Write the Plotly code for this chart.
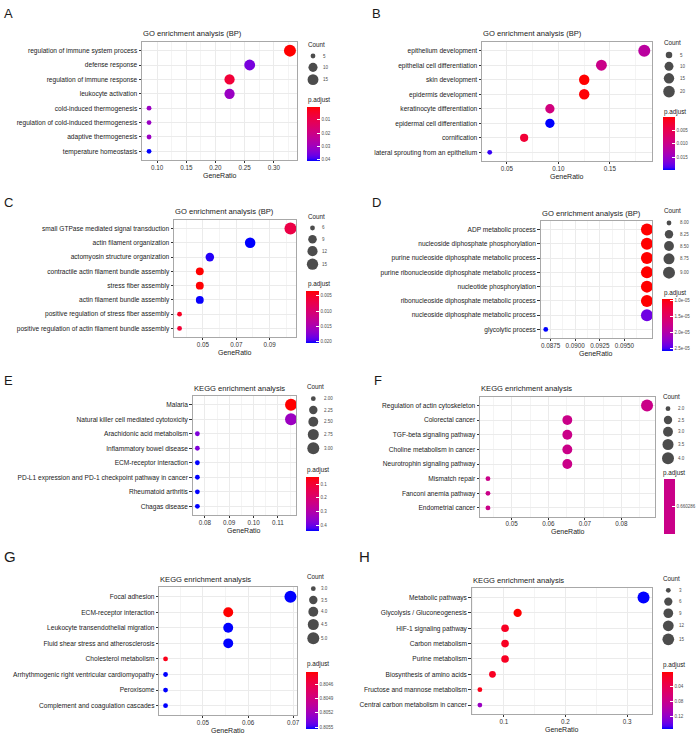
import math
import plotly.graph_objects as go

W, H = 700, 740
FONT = "Liberation Sans, Arial, sans-serif"

# ------------------------------------------------------------------ data
A_terms = ["regulation of immune system process", "defense response", "regulation of immune response",
           "leukocyte activation", "cold-induced thermogenesis", "regulation of cold-induced thermogenesis",
           "adaptive thermogenesis", "temperature homeostasis"]
A_ratio = [0.3276, 0.2586, 0.2241, 0.2241, 0.0862, 0.0862, 0.0862, 0.0862]
A_count = [19, 15, 13, 13, 5, 5, 5, 5]
A_padj = [0.0002, 0.0355, 0.0065, 0.031, 0.031, 0.031, 0.031, 0.0412]
A_xticks = [0.10, 0.15, 0.20, 0.25, 0.30]
A_xlabels = ["0.10", "0.15", "0.20", "0.25", "0.30"]
A_size_breaks = [5, 10, 15]
A_size_labels = ["5", "10", "15"]
A_col_breaks = [0.01, 0.02, 0.03, 0.04]
A_col_labels = ["0.01", "0.02", "0.03", "0.04"]

B_terms = ["epithelium development", "epithelial cell differentiation", "skin development",
           "epidermis development", "keratinocyte differentiation", "epidermal cell differentiation",
           "cornification", "lateral sprouting from an epithelium"]
B_ratio = [0.1833, 0.1417, 0.1250, 0.1250, 0.0917, 0.0917, 0.0667, 0.0333]
B_count = [22, 17, 15, 15, 11, 11, 8, 4]
B_padj = [0.0118, 0.0099, 0.0001, 0.0003, 0.0089, 0.0197, 0.0030, 0.0190]
B_xticks = [0.05, 0.10, 0.15]
B_xlabels = ["0.05", "0.10", "0.15"]
B_size_breaks = [5, 10, 15, 20]
B_size_labels = ["5", "10", "15", "20"]
B_col_breaks = [0.005, 0.010, 0.015]
B_col_labels = ["0.005", "0.010", "0.015"]

C_terms = ["small GTPase mediated signal transduction", "actin filament organization",
           "actomyosin structure organization", "contractile actin filament bundle assembly",
           "stress fiber assembly", "actin filament bundle assembly",
           "positive regulation of stress fiber assembly",
           "positive regulation of actin filament bundle assembly"]
C_ratio = [0.1024, 0.0783, 0.0542, 0.0482, 0.0482, 0.0482, 0.0361, 0.0361]
C_count = [17, 13, 9, 8, 8, 8, 6, 6]
C_padj = [0.0070, 0.0204, 0.0200, 0.0035, 0.0036, 0.0203, 0.0048, 0.0060]
C_xticks = [0.05, 0.07, 0.09]
C_xlabels = ["0.05", "0.07", "0.09"]
C_size_breaks = [6, 9, 12, 15]
C_size_labels = ["6", "9", "12", "15"]
C_col_breaks = [0.005, 0.010, 0.015, 0.020]
C_col_labels = ["0.005", "0.010", "0.015", "0.020"]

D_terms = ["ADP metabolic process", "nucleoside diphosphate phosphorylation",
           "purine nucleoside diphosphate metabolic process",
           "purine ribonucleoside diphosphate metabolic process", "nucleotide phosphorylation",
           "ribonucleoside diphosphate metabolic process", "nucleoside diphosphate metabolic process",
           "glycolytic process"]
D_ratio = [0.0973, 0.0973, 0.0973, 0.0973, 0.0973, 0.0973, 0.0973, 0.0870]
D_count = [9, 9, 9, 9, 9, 9, 9, 8]
D_padj = [9.6e-06, 9.6e-06, 9.6e-06, 9.6e-06, 9.6e-06, 9.6e-06, 2.39e-05, 2.58e-05]
D_xticks = [0.0875, 0.0900, 0.0925, 0.0950]
D_xlabels = ["0.0875", "0.0900", "0.0925", "0.0950"]
D_size_breaks = [8.00, 8.25, 8.50, 8.75, 9.00]
D_size_labels = ["8.00", "8.25", "8.50", "8.75", "9.00"]
D_col_breaks = [1.0e-05, 1.5e-05, 2.0e-05, 2.5e-05]
D_col_labels = ["1.0e-05", "1.5e-05", "2.0e-05", "2.5e-05"]

E_terms = ["Malaria", "Natural killer cell mediated cytotoxicity", "Arachidonic acid metabolism",
           "Inflammatory bowel disease", "ECM-receptor interaction",
           "PD-L1 expression and PD-1 checkpoint pathway in cancer", "Rheumatoid arthritis",
           "Chagas disease"]
E_ratio = [0.1154, 0.1154, 0.0769, 0.0769, 0.0769, 0.0769, 0.0769, 0.0769]
E_count = [3, 3, 2, 2, 2, 2, 2, 2]
E_padj = [0.044, 0.34, 0.38, 0.38, 0.442, 0.442, 0.442, 0.442]
E_xticks = [0.08, 0.09, 0.10, 0.11]
E_xlabels = ["0.08", "0.09", "0.10", "0.11"]
E_size_breaks = [2.00, 2.25, 2.50, 2.75, 3.00]
E_size_labels = ["2.00", "2.25", "2.50", "2.75", "3.00"]
E_col_breaks = [0.1, 0.2, 0.3, 0.4]
E_col_labels = ["0.1", "0.2", "0.3", "0.4"]

F_terms = ["Regulation of actin cytoskeleton", "Colorectal cancer", "TGF-beta signaling pathway",
           "Choline metabolism in cancer", "Neurotrophin signaling pathway", "Mismatch repair",
           "Fanconi anemia pathway", "Endometrial cancer"]
F_ratio = [0.0870, 0.0652, 0.0652, 0.0652, 0.0652, 0.0435, 0.0435, 0.0435]
F_count = [4, 3, 3, 3, 3, 2, 2, 2]
F_padj = [0.660286, 0.660286, 0.660286, 0.660286, 0.660286, 0.660286, 0.660286, 0.660286]
F_xticks = [0.05, 0.06, 0.07, 0.08]
F_xlabels = ["0.05", "0.06", "0.07", "0.08"]
F_size_breaks = [2.0, 2.5, 3.0, 3.5, 4.0]
F_size_labels = ["2.0", "2.5", "3.0", "3.5", "4.0"]
F_col_breaks = [0.660286]
F_col_labels = ["0.660286"]

G_terms = ["Focal adhesion", "ECM-receptor interaction", "Leukocyte transendothelial migration",
           "Fluid shear stress and atherosclerosis", "Cholesterol metabolism",
           "Arrhythmogenic right ventricular cardiomyopathy", "Peroxisome",
           "Complement and coagulation cascades"]
G_ratio = [0.0694, 0.0556, 0.0556, 0.0556, 0.0417, 0.0417, 0.0417, 0.0417]
G_count = [5, 4, 4, 4, 3, 3, 3, 3]
G_padj = [0.80553, 0.80434, 0.80553, 0.80553, 0.80440, 0.80553, 0.80553, 0.80553]
G_xticks = [0.05, 0.06, 0.07]
G_xlabels = ["0.05", "0.06", "0.07"]
G_size_breaks = [3.0, 3.5, 4.0, 4.5, 5.0]
G_size_labels = ["3.0", "3.5", "4.0", "4.5", "5.0"]
G_col_breaks = [0.8046, 0.8049, 0.8052, 0.8055]
G_col_labels = ["0.8046", "0.8049", "0.8052", "0.8055"]

H_terms = ["Metabolic pathways", "Glycolysis / Gluconeogenesis", "HIF-1 signaling pathway",
           "Carbon metabolism", "Purine metabolism", "Biosynthesis of amino acids",
           "Fructose and mannose metabolism", "Central carbon metabolism in cancer"]
H_ratio = [0.3265, 0.1224, 0.1020, 0.1020, 0.1020, 0.0816, 0.0612, 0.0612]
H_count = [16, 6, 5, 5, 5, 4, 3, 3]
H_padj = [0.1563, 0.0007, 0.013, 0.013, 0.013, 0.013, 0.008, 0.117]
H_xticks = [0.1, 0.2, 0.3]
H_xlabels = ["0.1", "0.2", "0.3"]
H_size_breaks = [3, 6, 9, 12, 15]
H_size_labels = ["3", "6", "9", "12", "15"]
H_col_breaks = [0.04, 0.08, 0.12]
H_col_labels = ["0.04", "0.08", "0.12"]

# ------------------------------------------------------------------ colour helpers (Lab interpolation like ggplot)
def _lin(c):
    c = c / 255.0
    return c / 12.92 if c <= 0.04045 else ((c + 0.055) / 1.055) ** 2.4


def rgb2lab(rgb):
    r, g, b = [_lin(v) for v in rgb]
    X = 0.4124564 * r + 0.3575761 * g + 0.1804375 * b
    Y = 0.2126729 * r + 0.7151522 * g + 0.0721750 * b
    Z = 0.0193339 * r + 0.1191920 * g + 0.9503041 * b
    f = lambda t: t ** (1 / 3) if t > 0.008856 else 7.787 * t + 16 / 116
    fx, fy, fz = f(X / 0.95047), f(Y), f(Z / 1.08883)
    return (116 * fy - 16, 500 * (fx - fy), 200 * (fy - fz))


def lab2rgb(L, a, b):
    fy = (L + 16) / 116
    fx = fy + a / 500
    fz = fy - b / 200
    finv = lambda t: t ** 3 if t ** 3 > 0.008856 else (t - 16 / 116) / 7.787
    X, Y, Z = 0.95047 * finv(fx), finv(fy), 1.08883 * finv(fz)
    r = 3.2404542 * X - 1.5371385 * Y - 0.4985314 * Z
    g = -0.9692660 * X + 1.8760108 * Y + 0.0415560 * Z
    bb = 0.0556434 * X - 0.2040259 * Y + 1.0572252 * Z

    def enc(c):
        c = min(max(c, 0.0), 1.0)
        return 255 * (12.92 * c if c <= 0.0031308 else 1.055 * c ** (1 / 2.4) - 0.055)

    return "rgb(%d,%d,%d)" % tuple(int(round(enc(c))) for c in (r, g, bb))


LAB_BLUE = rgb2lab((0, 0, 255))
LAB_RED = rgb2lab((255, 0, 0))


def lab_mix(s):
    return lab2rgb(*[LAB_BLUE[i] + (LAB_RED[i] - LAB_BLUE[i]) * s for i in range(3)])


BLUE_TO_RED = [[i / 20, lab_mix(i / 20)] for i in range(21)]
MID = lab_mix(0.5)

DMIN, DMAX = 4.8, 12.0


def diam(c, cmin, cmax):
    if cmax == cmin:
        return (DMIN + DMAX) / 2
    return DMIN + (DMAX - DMIN) * math.sqrt(max(c - cmin, 0) / (cmax - cmin))


# ------------------------------------------------------------------ panel layout (pixel geometry)
panels = [
    dict(letter="A", title="GO enrichment analysis (BP)", terms=A_terms, ratio=A_ratio, count=A_count, padj=A_padj,
         xt=A_xticks, xl=A_xlabels, sb=A_size_breaks, sl=A_size_labels, cb=A_col_breaks, cl=A_col_labels,
         box=(142, 42, 297, 160), let=(3, 13, 13), ct=(307, 44), dx=313, lx=322, pt=(307, 100), bar=(307, 107, 320, 161)),
    dict(letter="B", title="GO enrichment analysis (BP)", terms=B_terms, ratio=B_ratio, count=B_count, padj=B_padj,
         xt=B_xticks, xl=B_xlabels, sb=B_size_breaks, sl=B_size_labels, cb=B_col_breaks, cl=B_col_labels,
         box=(482, 42, 652, 161), let=(370.5, 13, 13), ct=(663, 43), dx=669, lx=679, pt=(663, 112), bar=(663, 117, 675, 169.5)),
    dict(letter="C", title="GO enrichment analysis (BP)", terms=C_terms, ratio=C_ratio, count=C_count, padj=C_padj,
         xt=C_xticks, xl=C_xlabels, sb=C_size_breaks, sl=C_size_labels, cb=C_col_breaks, cl=C_col_labels,
         box=(174, 220, 296, 337), let=(3, 202.5, 13), ct=(307, 216), dx=312.5, lx=321, pt=(307, 284), bar=(306, 291, 319, 343)),
    dict(letter="D", title="GO enrichment analysis (BP)", terms=D_terms, ratio=D_ratio, count=D_count, padj=D_padj,
         xt=D_xticks, xl=D_xlabels, sb=D_size_breaks, sl=D_size_labels, cb=D_col_breaks, cl=D_col_labels,
         box=(540.7, 221, 652, 338), let=(370.5, 202, 13), ct=(663, 211), dx=669, lx=679, pt=(663, 293), bar=(662, 299.3, 673, 351.7)),
    dict(letter="E", title="KEGG enrichment analysis", terms=E_terms, ratio=E_ratio, count=E_count, padj=E_padj,
         xt=E_xticks, xl=E_xlabels, sb=E_size_breaks, sl=E_size_labels, cb=E_col_breaks, cl=E_col_labels,
         box=(192.7, 396, 295.7, 515), let=(3, 381, 13), ct=(306, 386.7), dx=313.3, lx=322.7, pt=(306, 470), bar=(306, 476.7, 319.3, 530.7)),
    dict(letter="F", title="KEGG enrichment analysis", terms=F_terms, ratio=F_ratio, count=F_count, padj=F_padj,
         xt=F_xticks, xl=F_xlabels, sb=F_size_breaks, sl=F_size_labels, cb=F_col_breaks, cl=F_col_labels,
         box=(480, 396.7, 655, 516.7), let=(373, 381, 13), ct=(661.7, 396.7), dx=668, lx=677, pt=(661.7, 473.3), bar=(664, 479.3, 675, 534.3)),
    dict(letter="G", title="KEGG enrichment analysis", terms=G_terms, ratio=G_ratio, count=G_count, padj=G_padj,
         xt=G_xticks, xl=G_xlabels, sb=G_size_breaks, sl=G_size_labels, cb=G_col_breaks, cl=G_col_labels,
         box=(159.3, 587.3, 296.7, 715), let=(3, 556, 15), ct=(305.7, 576.7), dx=313.3, lx=320, pt=(305.7, 664.3), bar=(306, 671.7, 318, 728.3)),
    dict(letter="H", title="KEGG enrichment analysis", terms=H_terms, ratio=H_ratio, count=H_count, padj=H_padj,
         xt=H_xticks, xl=H_xlabels, sb=H_size_breaks, sl=H_size_labels, cb=H_col_breaks, cl=H_col_labels,
         box=(471.7, 588.3, 651.7, 714.3), let=(358, 556, 15), ct=(661.7, 578.3), dx=668.3, lx=678, pt=(662.3, 665), bar=(662.3, 672.3, 673.3, 729.3)),
]

TXT = "#1a1a1a"
TICK_TXT = "#333333"

fig = go.Figure()
layout = dict(width=W, height=H, margin=dict(l=0, r=0, t=0, b=0, autoexpand=False),
              paper_bgcolor="white", plot_bgcolor="rgba(0,0,0,0)", showlegend=False,
              font=dict(family=FONT, color=TXT))
annotations = []


def ann(x, y, text, size, xanchor="left", color=TXT):
    annotations.append(dict(xref="paper", yref="paper", x=x / W, y=1 - y / H, text=text, showarrow=False,
                            xanchor=xanchor, yanchor="middle", borderpad=0,
                            font=dict(size=size, color=color, family=FONT)))


leg_x, leg_y, leg_s = [], [], []

for i, p in enumerate(panels):
    n = i + 1
    xa = "xaxis" if n == 1 else "xaxis%d" % n
    ya = "yaxis" if n == 1 else "yaxis%d" % n
    xr = "x" if n == 1 else "x%d" % n
    yr = "y" if n == 1 else "y%d" % n
    ca = "coloraxis" if n == 1 else "coloraxis%d" % n
    x0, y0, x1, y1 = p["box"]

    cmin_c, cmax_c = min(p["count"]), max(p["count"])
    sizes = [diam(c, cmin_c, cmax_c) for c in p["count"]]

    fig.add_trace(go.Scatter(
        x=p["ratio"], y=p["terms"], xaxis=xr, yaxis=yr, mode="markers", cliponaxis=False,
        marker=dict(size=sizes, color=[-v for v in p["padj"]], coloraxis=ca, line=dict(width=0), opacity=1),
        hovertemplate="%{y}<br>GeneRatio=%{x}<extra></extra>"))

    rmin, rmax = min(p["ratio"]), max(p["ratio"])
    ex = 0.05 * (rmax - rmin)
    xrng = [rmin - ex, rmax + ex]
    step = p["xt"][1] - p["xt"][0]
    minor = [p["xt"][0] - step / 2] + [v + step / 2 for v in p["xt"]]
    minor = [m for m in minor if xrng[0] <= m <= xrng[1]]

    layout[xa] = dict(domain=[x0 / W, x1 / W], range=xrng, anchor=yr, tickmode="array", tickvals=p["xt"],
                      ticktext=p["xl"], ticks="outside", ticklen=2.2, tickwidth=0.7, tickcolor="#333333",
                      ticklabelstandoff=-1,
                      showgrid=True, gridcolor="#EBEBEB", gridwidth=0.8,
                      minor=dict(tickvals=minor, showgrid=True, gridcolor="#F4F4F4", gridwidth=0.5, ticks=""),
                      showline=True, mirror=True, linecolor="#A8A8A8", linewidth=0.9, zeroline=False,
                      tickfont=dict(size=6.3, color=TICK_TXT, family=FONT), fixedrange=True)
    nt = len(p["terms"])
    layout[ya] = dict(domain=[1 - y1 / H, 1 - y0 / H], anchor=xr, type="category", categoryorder="array",
                      categoryarray=p["terms"], range=[nt - 1 + 0.6, -0.6], ticks="outside", ticklen=2.5,
                      tickwidth=0.7, tickcolor="#333333", showgrid=True, gridcolor="#EBEBEB", gridwidth=0.8,
                      showline=True, mirror=True, linecolor="#A8A8A8", linewidth=0.9, zeroline=False,
                      tickfont=dict(size=6.6, color=TXT, family=FONT), fixedrange=True)

    # colour axis with reversed bar (low p.adjust = red at top)
    bx0, by0, bx1, by1 = p["bar"]
    pmin, pmax = min(p["padj"]), max(p["padj"])
    if pmax > pmin:
        cs = BLUE_TO_RED
        cmin, cmax = -pmax, -pmin
    else:
        cs = [[0, MID], [1, MID]]
        cmin, cmax = -pmin - 1e-7, -pmin + 1e-7
    layout[ca] = dict(colorscale=cs, cmin=cmin, cmax=cmax,
                      colorbar=dict(x=bx0 / W, xanchor="left", y=1 - by0 / H, yanchor="top",
                                    len=by1 - by0, lenmode="pixels", thickness=bx1 - bx0, thicknessmode="pixels",
                                    xpad=0, ypad=0, outlinewidth=0, borderwidth=0,
                                    tickmode="array", tickvals=[-v for v in p["cb"]], ticktext=p["cl"],
                                    ticks="inside", ticklen=2.5, tickwidth=0.7, tickcolor="white",
                                    tickfont=dict(size=4.5, color="#4d4d4d", family=FONT),
                                    title=dict(text="")))

    # text elements
    lx_, ly_, lsz = p["let"]
    ann(lx_, ly_, p["letter"], lsz)
    ann(x0, y0 - 8, p["title"], 7.6)
    ann((x0 + x1) / 2, y1 + 15, "GeneRatio", 7.0, xanchor="center")
    ann(p["ct"][0], p["ct"][1], "Count", 6.3)
    ann(p["pt"][0], p["pt"][1], "p.adjust", 6.3)

    # size legend
    ds = [diam(b, cmin_c, cmax_c) for b in p["sb"]]
    hs = [max(11.3, d + 2.3) for d in ds]
    yy = [p["ct"][1] + 12]
    for j in range(1, len(ds)):
        yy.append(yy[-1] + (hs[j - 1] + hs[j]) / 2)
    for j, lab in enumerate(p["sl"]):
        leg_x.append(p["dx"])
        leg_y.append(yy[j])
        leg_s.append(ds[j])
        ann(p["lx"], yy[j], lab, 4.5, color="#4d4d4d")

# overlay axis in pixel units for the size legends
fig.add_trace(go.Scatter(x=leg_x, y=leg_y, xaxis="x9", yaxis="y9", mode="markers", cliponaxis=False,
                         marker=dict(size=leg_s, color="black", line=dict(width=0)), hoverinfo="skip"))
layout["xaxis9"] = dict(domain=[0, 1], range=[0, W], visible=False, fixedrange=True, anchor="y9")
layout["yaxis9"] = dict(domain=[0, 1], range=[H, 0], visible=False, fixedrange=True, anchor="x9")

layout["annotations"] = annotations
fig.update_layout(**layout)
fig.write_html("out.html", config={"displayModeBar": False},
               post_script="document.body.style.margin='0px';document.body.style.padding='0px';")
